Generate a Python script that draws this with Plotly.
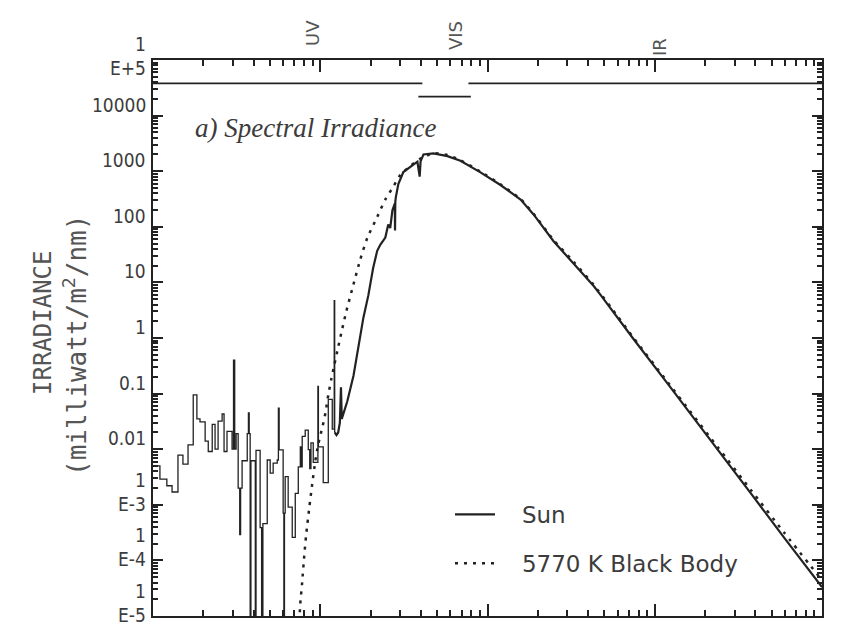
import math
import plotly.graph_objects as go

# ---------------- data ----------------
# EUV / FUV part of the solar spectrum (stepped histogram), wavelength in nm,
# irradiance in mW/m^2/nm.  Values of 3e-6 are drops below the bottom of the axis.
uv_wavelength_nm = [10.0, 11.0, 12.1, 13.0, 14.1, 15.1, 16.2, 17.4, 18.3, 19.1,
                    20.5, 21.4, 22.6, 23.5, 24.5, 25.9, 26.6, 27.7, 29.7, 30.3,
                    30.8, 31.4, 32.3, 33.0, 33.4, 34.1, 36.6, 37.2, 37.6, 38.1,
                    38.5, 40.9, 41.3, 43.7, 44.6, 45.4, 48.2, 50.2, 52.3, 55.3,
                    56.2, 56.8, 60.0, 60.6, 61.1, 61.7, 64.3, 68.0, 70.9, 73.9,
                    76.0, 76.6, 78.0, 81.3, 84.8, 86.5, 88.0, 90.8, 96.8, 97.5,
                    104.2, 111.7, 118.0, 121.2, 122.0]
uv_irradiance = [5.0e-3, 2.9e-3, 2.2e-3, 1.7e-3, 7.8e-3, 5.4e-3, 1.2e-2, 9.5e-2, 3.5e-2, 3.1e-2,
                 1.4e-2, 9.1e-3, 2.8e-2, 1.0e-2, 3.2e-2, 4.3e-2, 9.1e-3, 2.1e-2, 1.0e-2, 4.0e-1,
                 1.0e-2, 1.9e-2, 2.0e-3, 2.9e-4, 2.0e-3, 6.2e-3, 1.9e-2, 4.5e-2, 1.9e-2, 3e-6,
                 6.2e-3, 3e-6, 9.5e-3, 3.9e-4, 3e-6, 4.6e-4, 6.4e-3, 3.7e-3, 5.6e-3, 6.4e-3,
                 5.5e-2, 9.7e-3, 7.1e-4, 3e-6, 7.1e-4, 3.2e-3, 9.1e-4, 2.6e-4, 1.6e-3, 4.8e-3,
                 1.1e-2, 4.8e-3, 1.7e-2, 2.2e-2, 9.8e-3, 4.5e-3, 1.3e-2, 5.8e-3, 1.35e-1, 1.1e-2,
                 2.5e-3, 7.9e-2, 2.3e-2, 4.7, 2.0e-2]

# Main part of the solar spectrum
sun_wavelength_nm = [122.0, 125, 128, 131, 133, 134.5, 138, 145, 158, 169,
                     181, 194, 207, 219, 229, 245, 255, 262, 270, 279,
                     280, 281, 283, 293, 314, 346, 381, 393, 398, 414,
                     475, 576, 689, 908, 1196, 1577, 1885, 2483, 3272, 4315,
                     4753, 5454, 6520, 7482, 11970, 16440, 23850, 37560, 59200, 94600,
                     100000]
sun_irradiance = [0.020, 0.018, 0.020, 0.030, 0.13, 0.035, 0.045, 0.072, 0.21, 0.74,
                  2.3, 5.9, 18, 37, 48, 64, 110, 95, 198, 260,
                  86, 280, 339, 586, 966, 1200, 1480, 800, 1500, 2000,
                  2090, 1870, 1540, 951, 564, 308, 167, 55, 22, 8.6,
                  5.9, 3.4, 1.6, 0.95, 0.15, 0.042, 0.0096, 1.6e-3, 2.6e-4, 4.1e-5,
                  3.3e-5]

# 5770 K black body
bb_wavelength_nm = [75.0, 75.9, 78.0, 80.2, 82.4, 86.0, 89.6, 93.4, 97.3, 103.0, 107.4,
                    111.7, 116.5, 121.4, 128.2, 135.5, 143.1, 157.5, 173.6, 191.1, 219.2,
                    244.7, 269.3, 300.8, 345.5, 396.9, 475, 576, 689, 908, 1196,
                    1577, 1885, 2483, 3272, 4315, 5454, 7482, 11970, 16440, 23850,
                    37560, 59200, 100000]
bb_irradiance = [8e-6, 1.6e-5, 4.1e-5, 1.2e-4, 2.9e-4, 8.9e-4, 2.4e-3, 6.1e-3, 1.23e-2, 2.5e-2, 4.5e-2,
                 9.5e-2, 0.184, 0.33, 0.70, 1.48, 3.0, 8.9, 26, 63, 151,
                 309, 490, 850, 1245, 1680, 2100, 1950, 1580, 980, 580,
                 315, 172, 58, 23.5, 9.0, 3.6, 1.0, 0.16, 0.046, 0.0108,
                 1.85e-3, 3.2e-4, 4.4e-5]

# Spectral band bars drawn just under the top axis
band_names = ["UV", "VIS", "IR"]
band_start_nm = [10, 386, 769]
band_end_nm = [408, 795, 100000]
band_level = [3.8e4, 2.2e4, 3.8e4]

# Axis ticks
y_tick_values = [1e5, 1e4, 1e3, 1e2, 1e1, 1, 0.1, 0.01, 1e-3, 1e-4, 1e-5]
y_tick_labels = ["1<br>E+5", "10000", "1000", "100", "10", "1", "0.1", "0.01",
                 "1<br>E-3", "1<br>E-4", "1<br>E-5"]
x_tick_values = [10, 100, 1000, 10000, 100000]

# ---------------- layout helpers ----------------
W, H = 843, 639
PL, PR, PT, PB = 153, 822, 60, 616


def px(xp):
    return (xp - PL) / (PR - PL)


def py(yp):
    return (PB - yp) / (PB - PT)


INK = "#222222"
TXT = "#3c3c3c"
NB = "\u00a0"

x_minor = [m * 10 ** d for d in range(1, 5) for m in range(2, 10)]
y_minor = [m * 10.0 ** d for d in range(-5, 5) for m in range(2, 10)]

fig = go.Figure()

fig.add_trace(go.Scatter(
    x=uv_wavelength_nm, y=uv_irradiance, mode="lines",
    line=dict(color=INK, width=1.3, shape="hv"),
    showlegend=False, legendgroup="sun", hoverinfo="skip"))

fig.add_trace(go.Scatter(
    x=sun_wavelength_nm, y=sun_irradiance, mode="lines", name=NB * 3 + "Sun",
    line=dict(color=INK, width=2.2), legendgroup="sun"))

fig.add_trace(go.Scatter(
    x=bb_wavelength_nm, y=bb_irradiance, mode="lines", name=NB * 3 + "5770 K Black Body",
    line=dict(color=INK, width=2.5, dash="3px,6px", shape="spline", smoothing=0.6),
    legendgroup="bb"))

# band bars live on the overlay axes (same ranges) that carry the minor ticks
for name, a, b, lev in zip(band_names, band_start_nm, band_end_nm, band_level):
    fig.add_trace(go.Scatter(
        x=[a, b], y=[lev, lev], mode="lines", xaxis="x2", yaxis="y2",
        line=dict(color=INK, width=1.8), showlegend=False, hoverinfo="skip"))

common = dict(showgrid=False, zeroline=False, showticklabels=False)

fig.update_layout(
    xaxis=dict(type="log", range=[1, 5],
               showline=True, linecolor=INK, linewidth=2, mirror="ticks",
               ticks="inside", ticklen=12, tickwidth=2, tickcolor=INK,
               tickmode="array", tickvals=x_tick_values, **common),
    yaxis=dict(type="log", range=[-5, 5],
               showline=True, linecolor=INK, linewidth=2, mirror="ticks",
               ticks="inside", ticklen=10, tickwidth=2, tickcolor=INK,
               tickmode="array", tickvals=y_tick_values, **common),
    xaxis2=dict(type="log", range=[1, 5], overlaying="x", anchor="y2", side="bottom",
                showline=False, mirror="ticks",
                ticks="inside", ticklen=6, tickwidth=1.6, tickcolor=INK,
                tickmode="array", tickvals=x_minor, **common),
    yaxis2=dict(type="log", range=[-5, 5], overlaying="y", anchor="x2", side="left",
                showline=False, mirror="ticks",
                ticks="inside", ticklen=5, tickwidth=1.6, tickcolor=INK,
                tickmode="array", tickvals=y_minor, **common),
)

annotations = [
    dict(text="a) Spectral Irradiance", x=px(193), y=py(128), xref="paper", yref="paper",
         xanchor="left", yanchor="middle", showarrow=False,
         font=dict(family="Liberation Serif, DejaVu Serif, serif", size=27, color=TXT,
                   style="italic")),
    dict(text="IRRADIANCE", x=px(43), y=py(322), xref="paper", yref="paper",
         xanchor="center", yanchor="middle", textangle=-90, showarrow=False,
         font=dict(family="DejaVu Sans Mono, monospace", size=24, color="#555555")),
    dict(text="(milliwatt/m<sup>2</sup>/nm)", x=px(75), y=py(346), xref="paper", yref="paper",
         xanchor="center", yanchor="middle", textangle=-90, showarrow=False,
         font=dict(family="DejaVu Sans Mono, monospace", size=26, color="#555555")),
]

# y tick labels (drawn slightly above their ticks, as in the scanned original);
# two-line labels are written as two stacked lines
tick_font = dict(family="Liberation Sans Narrow, DejaVu Sans Condensed, sans-serif",
                 size=19, color=TXT)
for v, lab in zip(y_tick_values, y_tick_labels):
    parts = lab.split("<br>")
    if len(parts) == 1:
        shifts = [11]
    elif v >= 1e5:
        shifts = [16, -8]
    else:
        shifts = [25, 1]
    for part, s in zip(parts, shifts):
        annotations.append(dict(text=part, x=px(148), y=math.log10(v), xref="paper", yref="y",
                                xanchor="right", yanchor="middle", yshift=s, showarrow=False,
                                font=tick_font))

label_pos = {"UV": (312, 33), "VIS": (455, 36), "IR": (660, 47)}
for name in band_names:
    xp, yp = label_pos[name]
    annotations.append(dict(text=name, x=px(xp), y=py(yp), xref="paper", yref="paper",
                            xanchor="center", yanchor="middle", textangle=-90,
                            showarrow=False,
                            font=dict(family="DejaVu Sans, sans-serif", size=18, color="#555555")))

fig.update_layout(
    width=W, height=H,
    margin=dict(l=PL, r=W - PR, t=PT, b=H - PB),
    paper_bgcolor="white", plot_bgcolor="white",
    annotations=annotations,
    showlegend=True,
    legend=dict(x=px(450), y=py(493), xanchor="left", yanchor="top",
                bgcolor="rgba(0,0,0,0)", borderwidth=0,
                font=dict(family="DejaVu Sans, sans-serif", size=23, color=TXT),
                itemwidth=40, tracegroupgap=16, traceorder="grouped"),
)

fig.write_html("out.html")
